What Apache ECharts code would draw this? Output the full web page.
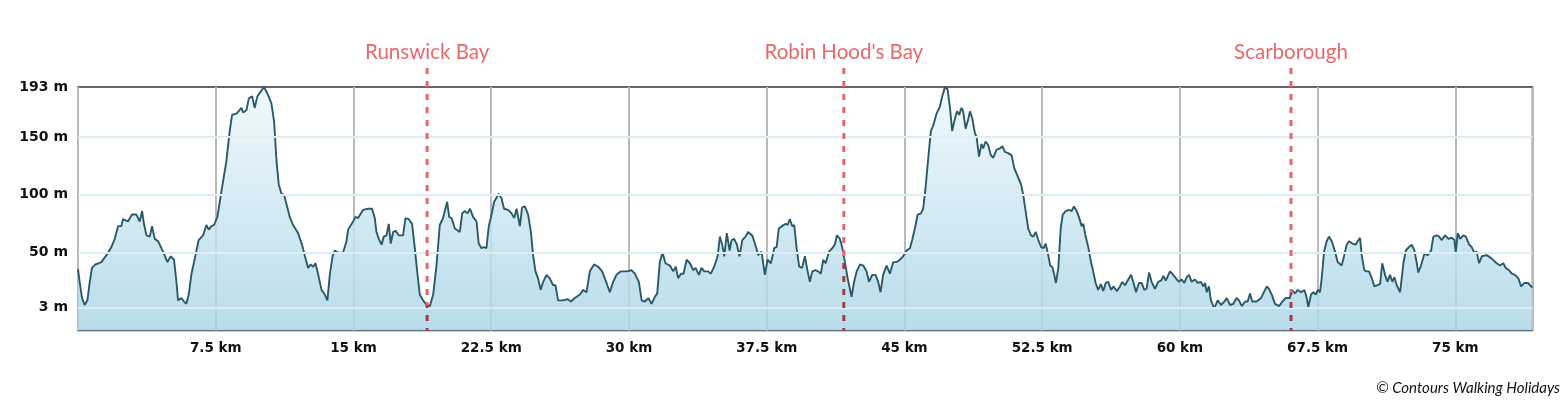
<!DOCTYPE html>
<html>
<head>
<meta charset="utf-8">
<script src="https://cdn.jsdelivr.net/npm/echarts@6/dist/echarts.min.js"></script>
<style>
html,body{margin:0;padding:0;background:#fff;}
#chart{width:1564px;height:403px;}
</style>
</head>
<body>
<div id="chart"></div>
<script>
// Distance along route (km)
const distKm = [
0,0.09,0.22,0.36,0.51,0.64,0.76,0.95,1.13,1.27,
1.55,1.82,2.00,2.18,2.36,2.45,2.72,2.94,3.18,3.36,
3.49,3.59,3.73,3.91,4.03,4.18,4.36,4.63,4.87,5.05,
5.23,5.36,5.45,5.63,5.77,5.90,6.03,6.18,6.36,6.57,
6.81,6.99,7.12,7.27,7.41,7.59,7.81,8.08,8.26,8.39,
8.63,8.90,8.99,9.17,9.30,9.48,9.62,9.77,9.95,10.13,
10.35,10.53,10.68,10.81,10.93,11.08,11.22,
11.53,11.71,11.98,12.20,12.39,12.53,12.67,12.80,12.93,13.07,
13.26,13.44,13.58,13.71,13.86,13.98,14.16,14.43,14.62,14.71,
14.98,15.11,15.25,15.52,15.80,16.01,16.16,16.25,16.38,16.53,
16.65,16.80,16.92,17.03,17.16,17.30,17.47,17.70,17.83,18.01,
18.19,18.34,18.49,18.61,18.79,18.98,19.16,19.34,19.52,19.70,
19.88,20.10,20.21,20.34,20.52,20.79,20.92,21.06,21.21,21.35,
21.51,21.70,21.82,21.97,22.10,22.24,22.37,22.52,22.66,
22.91,23.06,23.20,23.42,23.61,23.75,23.88,24.06,24.18,24.33,
24.51,24.66,24.78,24.91,25.05,25.19,25.33,25.51,25.69,25.87,
26.00,26.14,26.42,26.66,26.84,27.05,27.33,27.51,27.69,27.87,
28.10,28.32,28.54,28.78,28.96,29.14,29.32,29.56,29.87,30.14,
30.32,30.54,30.69,30.87,31.05,31.23,31.41,31.54,31.68,31.83,
31.99,32.23,32.41,32.55,32.68,32.83,32.97,33.14,33.32,33.50,
33.63,33.81,33.95,34.10,
34.31,34.46,34.64,34.83,34.95,35.08,35.19,35.33,35.48,35.59,
35.73,35.88,36.02,36.17,36.35,36.49,36.71,36.86,37.04,37.22,
37.40,37.55,37.73,37.91,38.04,38.16,38.34,38.53,38.64,38.76,
38.89,39.00,39.13,39.27,39.43,39.58,39.73,39.85,39.98,40.16,
40.30,40.45,40.58,40.71,40.89,41.07,41.21,41.32,41.49,41.61,
41.76,41.91,42.03,42.12,42.26,42.40,42.58,42.76,42.94,43.07,
43.25,43.43,43.57,43.70,43.84,44.03,44.21,44.39,44.58,44.75,
44.93,45.12,45.30,45.42,45.57,
45.72,45.90,46.02,46.15,46.30,46.44,46.57,46.75,46.93,47.06,
47.21,47.35,47.48,47.60,47.71,47.86,47.98,48.11,48.20,48.33,
48.47,48.57,48.69,48.84,48.93,49.06,49.20,49.29,49.42,49.56,
49.71,49.84,50.02,50.20,50.33,50.47,50.65,50.84,50.98,51.17,
51.35,51.47,51.60,51.74,51.89,52.02,52.15,52.29,52.44,52.58,
52.69,52.83,52.94,53.05,53.16,53.25,53.38,53.51,53.62,53.78,
53.96,54.11,54.23,54.38,54.50,54.65,54.74,54.87,55.01,55.16,
55.28,55.41,55.55,55.70,55.83,55.96,56.10,56.25,56.39,56.56,
56.74,56.86,57.01,
57.19,57.34,57.46,57.61,57.77,57.92,58.06,58.19,58.32,58.46,
58.64,58.82,58.97,59.10,59.23,59.46,59.64,59.83,59.95,60.10,
60.24,60.37,60.50,60.64,60.82,60.97,61.15,61.27,61.37,61.46,
61.58,61.69,61.87,62.06,62.24,62.42,62.55,62.73,62.91,63.09,
63.22,63.37,63.55,63.69,63.82,63.94,64.18,64.42,64.60,64.73,
64.85,65.00,65.18,65.40,65.58,65.76,65.99,66.09,66.27,66.42,
66.60,66.78,66.91,66.99,67.14,67.27,67.40,67.51,67.63,67.72,
67.85,67.99,68.12,68.27,68.45,
68.59,68.81,68.95,69.08,69.21,69.39,69.57,69.68,69.81,69.90,
70.04,70.17,70.30,70.45,70.59,70.72,70.90,71.02,71.17,71.30,
71.44,71.57,71.68,71.81,71.99,72.17,72.30,72.48,72.62,72.77,
72.90,72.98,73.13,73.31,73.50,73.68,73.80,73.99,74.11,74.26,
74.44,74.62,74.80,74.95,75.02,75.13,75.26,75.44,75.57,75.75,
75.89,76.03,76.16,76.29,76.44,76.71,76.98,77.25,77.43,77.61,
77.74,77.92,78.07,78.25,78.43,78.58,78.76,78.95,79.07,79.19
];
// Elevation (m)
const elevM = [
36,25,11,5,9,25,37,40,41,42,
48,55,62,73,73,79,77,83,83,77,
86,75,65,64,73,62,60,51,42,47,
44,25,9,11,8,6,14,32,45,61,
65,74,70,73,74,81,103,129,155,169,
170,175,171,173,183,185,175,185,189,193,
186,179,163,129,109,101,100,
81,74,67,57,45,37,40,38,41,32,
18,14,9,31,47,52,50,50,60,70,
77,81,80,87,88,88,80,68,62,57,
64,65,75,58,68,69,65,65,80,79,
75,54,31,14,9,5,4,14,39,74,
80,94,81,80,71,68,84,86,84,88,
81,77,58,54,55,54,73,83,94,
101,97,88,87,84,80,88,73,89,90,
83,68,48,34,28,18,25,31,28,22,
22,9,9,10,8,11,14,18,16,34,
40,38,34,24,16,25,31,34,34,35,
32,25,9,8,11,6,12,15,42,50,
41,39,34,38,28,32,32,44,41,35,
37,31,37,34,
34,32,38,47,64,57,47,67,52,61,
62,57,47,61,64,68,65,58,48,51,
31,44,41,54,55,71,73,75,74,79,
73,74,54,38,37,47,34,25,34,35,
34,32,44,41,51,54,57,65,62,55,
42,28,19,12,25,34,40,39,34,25,
31,31,25,16,31,39,32,42,42,44,
47,52,54,61,71,
83,84,88,106,132,155,160,170,176,185,
193,191,175,155,163,172,169,175,172,157,
165,172,166,153,150,133,144,140,146,143,
134,132,139,140,142,137,136,134,123,116,
109,100,86,71,65,64,68,61,55,54,
58,48,39,38,31,24,37,71,83,86,
87,86,90,86,81,73,75,64,55,42,
34,24,18,23,17,24,25,18,21,17,
21,25,22,
27,31,25,16,24,24,18,19,33,25,
19,25,26,30,26,34,31,27,25,27,
24,29,31,25,27,24,25,21,24,16,
21,9,2,9,5,8,11,5,6,11,
9,4,8,8,15,8,8,11,17,21,
19,14,6,4,8,11,11,18,15,18,
16,18,11,3,14,16,14,18,16,28,
51,60,64,60,51,
42,39,48,57,60,58,57,60,63,48,
35,34,34,28,21,22,23,41,31,25,
31,25,29,22,16,41,52,55,57,52,
41,33,39,49,48,52,64,65,64,61,
65,62,63,61,50,67,62,65,64,57,
55,50,51,41,47,48,45,41,39,41,
37,35,32,31,28,21,24,24,22,20
];
// Y-axis tick labels / grid lines (m)
const yTickValues = [3, 50, 100, 150, 193];
const yGridValues = [3, 50, 100, 150];
const yMin = -17, yMax = 193;
// X-axis
const xMin = 0, xMax = 79.2, xStep = 7.5;
// Place markers
const markerKm = [19.01, 41.70, 66.05];
const markerNames = ['Runswick Bay', "Robin Hood's Bay", 'Scarborough'];
const copyright = '\u00A9 Contours Walking Holidays';

function elevAt(km) {
  for (let i = 1; i < distKm.length; i++) {
    if (distKm[i] >= km) {
      const t = (km - distKm[i-1]) / (distKm[i] - distKm[i-1]);
      return elevM[i-1] + t * (elevM[i] - elevM[i-1]);
    }
  }
  return elevM[elevM.length - 1];
}

const chart = echarts.init(document.getElementById('chart'), null, {renderer: 'canvas'});
const DASH = [6, 7];
chart.setOption({
  animation: false,
  backgroundColor: '#ffffff',
  grid: {
    left: 78, right: 31.5, top: 87, bottom: 72.5,
    show: true, backgroundColor: '#ffffff', borderColor: '#333333', borderWidth: 1.5
  },
  xAxis: {
    type: 'value', min: xMin, max: xMax, interval: xStep,
    axisLine: {show: false}, axisTick: {show: false},
    axisLabel: {
      showMinLabel: false, showMaxLabel: false, margin: 11,
      formatter: v => v + ' km',
      color: '#111', fontFamily: 'DejaVu Sans', fontWeight: 'bold', fontSize: 13.5
    },
    splitLine: {show: true, lineStyle: {color: '#b9b9b9', width: 2}}
  },
  yAxis: {
    type: 'value', min: yMin, max: yMax,
    axisLine: {show: false}, axisTick: {show: false},
    splitLine: {show: false},
    axisLabel: {
      customValues: yTickValues, margin: 10,
      formatter: v => v + ' m',
      color: '#111', fontFamily: 'DejaVu Sans', fontWeight: 'bold', fontSize: 14
    }
  },
  graphic: [{
    type: 'text', right: 4, bottom: 7,
    style: {text: copyright, fill: '#111', font: 'italic 15px Lato'}
  }],
  series: [
    {
      type: 'line', data: [], z: 1, silent: true,
      markLine: {
        silent: true, symbol: 'none', label: {show: false},
        lineStyle: {color: '#dcedf6', width: 2, type: 'solid'},
        data: yGridValues.map(v => ({yAxis: v}))
      }
    },
    {
      type: 'line', z: 2,
      data: distKm.map((d, i) => [d, elevM[i]]),
      showSymbol: false, smooth: false,
      lineStyle: {color: '#2a5a69', width: 1.9},
      areaStyle: {
        origin: 'start', opacity: 0.82,
        color: new echarts.graphic.LinearGradient(0, 0, 0, 1, [
          {offset: 0, color: '#eef7fb'},
          {offset: 1, color: '#a9d5e6'}
        ])
      }
    },
    {
      type: 'custom', coordinateSystem: 'cartesian2d', clip: false, z: 5, silent: true,
      data: markerKm.map((k, i) => [k, i]),
      renderItem: function (params, api) {
        const km = api.value(0), idx = api.value(1);
        const top = api.coord([km, yMax]);
        const bot = api.coord([km, yMin]);
        const mid = api.coord([km, elevAt(km)]);
        const y0 = top[1] - 19;
        return {
          type: 'group',
          children: [
            {type: 'line', shape: {x1: top[0], y1: y0, x2: mid[0], y2: mid[1]},
             style: {stroke: '#e9656c', lineWidth: 3, lineDash: DASH}},
            {type: 'line', shape: {x1: mid[0], y1: mid[1], x2: bot[0], y2: bot[1]},
             style: {stroke: '#a3394b', lineWidth: 3, lineDash: DASH, lineDashOffset: (mid[1] - y0)}},
            {type: 'text', x: top[0], y: top[1] - 35,
             style: {text: markerNames[idx], fill: '#e9686c', fontSize: 20.5, fontFamily: 'Lato',
                     align: 'center', verticalAlign: 'middle'}}
          ]
        };
      }
    }
  ]
});
</script>
</body>
</html>
